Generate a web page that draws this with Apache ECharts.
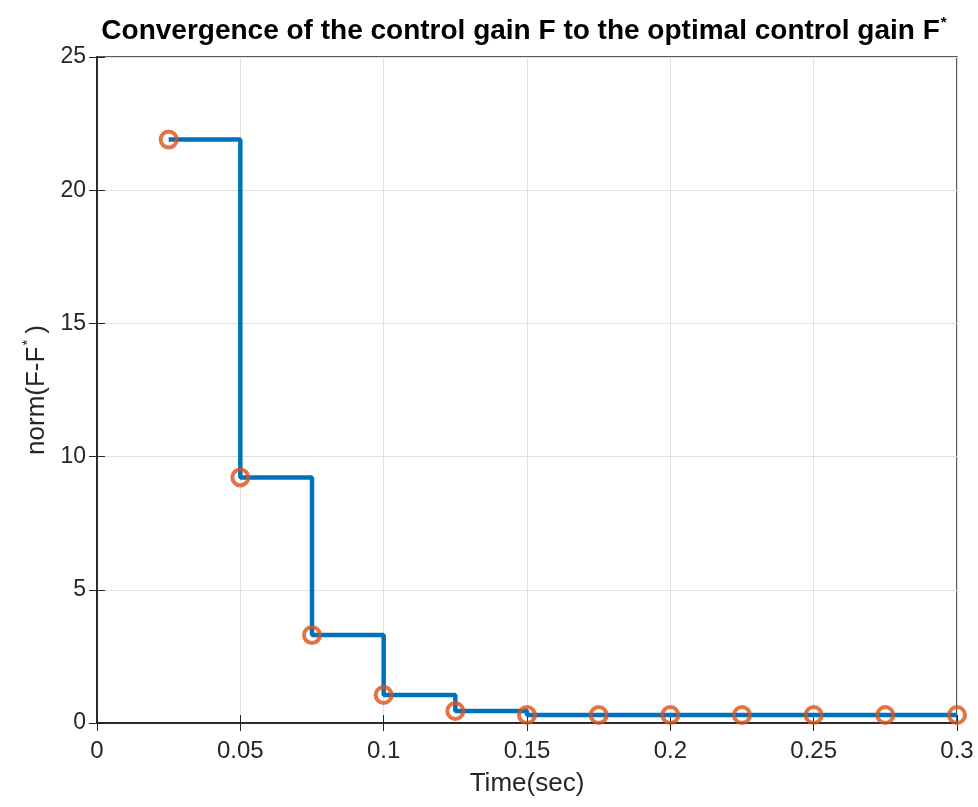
<!DOCTYPE html>
<html>
<head>
<meta charset="utf-8">
<script src="https://cdn.jsdelivr.net/npm/echarts@6/dist/echarts.min.js"></script>
<style>html,body{margin:0;padding:0;background:#fff}#c{width:978px;height:807px}</style>
</head>
<body>
<div id="c"></div>
<script>
const times = [0.025, 0.05, 0.075, 0.1, 0.125, 0.15, 0.175, 0.2, 0.225, 0.25, 0.275, 0.3];
const normValues = [21.9, 9.22, 3.3, 1.05, 0.45, 0.3, 0.3, 0.3, 0.3, 0.3, 0.3, 0.3];
const xTicks = [0, 0.05, 0.1, 0.15, 0.2, 0.25, 0.3];
const yTicks = [0, 5, 10, 15, 20, 25];

const pts = times.map((t, i) => [t, normValues[i]]);
const font = 'Liberation Sans, Arial, sans-serif';
const axisCol = '#262626';
const chart = echarts.init(document.getElementById('c'), null, {renderer: 'canvas'});
const fmtX = v => { const r = Math.round(v * 1000) / 1000; return xTicks.some(t => Math.abs(t - r) < 1e-9) ? String(r) : ''; };
const fmtY = v => { const r = Math.round(v * 1000) / 1000; return yTicks.some(t => Math.abs(t - r) < 1e-9) ? String(r) : ''; };
chart.setOption({
  animation: false,
  backgroundColor: '#fff',
  title: {
    text: '{t|Convergence of the control gain F to the optimal control gain F}{s|*}',
    left: 519, top: 10, textAlign: 'center',
    textStyle: {
      rich: {
        t: {fontFamily: font, fontWeight: 'bold', fontSize: 28, color: '#000'},
        s: {fontFamily: font, fontWeight: 'bold', fontSize: 15, color: '#000', padding: [0, 0, 18, 1]}
      }
    }
  },
  grid: {left: 97, right: 21, top: 57, bottom: 84, show: true, borderColor: axisCol, borderWidth: 1.5, backgroundColor: '#fff'},
  xAxis: [{
    type: 'value', min: 0, max: 0.3, interval: 0.05,
    name: 'Time(sec)', nameLocation: 'middle', nameGap: 48,
    nameTextStyle: {fontFamily: font, fontSize: 26, color: axisCol},
    axisLine: {show: true, lineStyle: {color: axisCol, width: 1.5}},
    axisTick: {show: true, inside: true, length: 8, lineStyle: {color: axisCol}},
    axisLabel: {fontFamily: font, fontSize: 24, color: axisCol, margin: 16, formatter: fmtX},
    splitLine: {show: true, lineStyle: {color: '#e0e0e0', width: 1}}
  }, {
    type: 'value', position: 'top', min: 0, max: 0.3, interval: 0.05,
    axisLine: {show: true, lineStyle: {color: axisCol, width: 1.5}},
    axisTick: {show: true, inside: true, length: 8, lineStyle: {color: axisCol}},
    axisLabel: {show: false}, splitLine: {show: false}
  }],
  yAxis: [{
    type: 'value', min: 0, max: 25, interval: 5,
    name: '{a|norm(F-F}{s|*}{a|)}', nameLocation: 'middle', nameGap: 42, nameRotate: 90,
    nameTextStyle: {
      rich: {
        a: {fontFamily: font, fontSize: 26, color: axisCol},
        s: {fontFamily: font, fontSize: 15, color: axisCol, padding: [0, 6, 18, 1]}
      }
    },
    axisLine: {show: true, lineStyle: {color: axisCol, width: 1.5}},
    axisTick: {show: true, inside: true, length: 8, lineStyle: {color: axisCol}},
    axisLabel: {fontFamily: font, fontSize: 23, color: axisCol, margin: 11, formatter: fmtY},
    splitLine: {show: true, lineStyle: {color: '#e0e0e0', width: 1}}
  }, {
    type: 'value', position: 'right', min: 0, max: 25, interval: 5,
    axisLine: {show: true, lineStyle: {color: axisCol, width: 1.5}},
    axisTick: {show: true, inside: true, length: 8, lineStyle: {color: axisCol}},
    axisLabel: {show: false}, splitLine: {show: false}
  }],
  series: [{
    type: 'line', data: pts, step: 'end', showSymbol: false, symbol: 'none',
    lineStyle: {color: '#0072BD', width: 4.5}, z: 2
  }, {
    type: 'scatter', data: pts, symbol: 'circle', symbolSize: 16,
    itemStyle: {color: 'rgba(0,0,0,0)', borderColor: '#D95319', borderWidth: 4}, z: 3
  }]
});
</script>
</body>
</html>
